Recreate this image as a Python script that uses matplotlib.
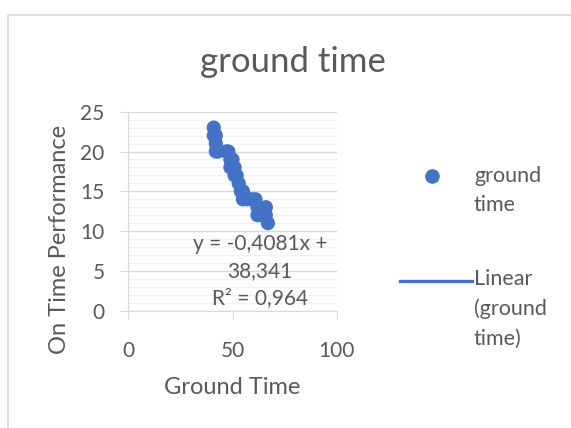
import numpy as np
import matplotlib.pyplot as plt
from matplotlib.lines import Line2D
from matplotlib.ticker import MultipleLocator

plt.rcParams['font.family'] = ['Lato', 'DejaVu Sans']

# data
ground_time = [41, 41, 42, 42, 42, 43, 47, 48, 49, 49, 50, 51, 51, 52,
               53, 54, 55, 55, 57, 59, 61, 62, 62, 63, 64, 65, 66, 66, 67]
on_time = [23, 22, 22, 21, 20, 20, 20, 20, 19, 18, 19, 18, 17, 17,
           16, 15, 15, 14, 14, 14, 14, 13, 12, 13, 12, 12, 13, 12, 11]
slope = -0.4081
intercept = 38.341
r2 = 0.964

blue = '#4472C4'
txt = '#595959'
W, H = 571, 428


def fx(px):
    return px / W


def fy(py):
    return 1 - py / H


fig = plt.figure(figsize=(W / 100, H / 100), dpi=100)
ax = fig.add_axes([fx(128.3), fy(310.7), fx(336.7) - fx(128.3), fy(111.7) - fy(310.7)])

# trendline
xs = np.array([min(ground_time), max(ground_time)])
ax.plot(xs, slope * xs + intercept, color=blue, lw=2.2, zorder=2)
ax.scatter(ground_time, on_time, s=105, color=blue, edgecolors='none', zorder=3)

ax.set_xlim(0, 100)
ax.set_ylim(0, 25)
ax.xaxis.set_major_locator(MultipleLocator(50))
ax.yaxis.set_major_locator(MultipleLocator(5))
ax.yaxis.set_minor_locator(MultipleLocator(1))
ax.grid(which='major', axis='y', color='#d9d9d9', lw=1, zorder=0)
ax.grid(which='minor', axis='y', color='#f2f2f2', lw=1, zorder=0)
ax.set_axisbelow(True)
for s in ['top', 'right']:
    ax.spines[s].set_visible(False)
for s in ['left', 'bottom']:
    ax.spines[s].set_color('#d9d9d9')
ax.tick_params(axis='both', which='major', colors='#d9d9d9', labelcolor=txt,
               length=6, labelsize=15)
ax.tick_params(axis='x', pad=16)
ax.tick_params(axis='y', pad=11)
ax.tick_params(which='minor', length=0)

ax.text(63.2, 5.0, f'y = {slope:.4f}x +\n{intercept:.3f}\nR² = {r2:.3f}'.replace('.', ','),
        ha='center', va='center', fontsize=15, color=txt, linespacing=1.45, zorder=4)

# titles
fig.text(fx(292.5), fy(62), 'ground time', ha='center', va='center', fontsize=25, color=txt)
fig.text(fx(232.5), fy(388), 'Ground Time', ha='center', va='center', fontsize=17, color=txt)
fig.text(fx(60), fy(239), 'On Time Performance', ha='center', va='center',
         rotation=90, fontsize=17, color=txt)

# legend
fig.add_artist(Line2D([fx(432)], [fy(176)], marker='o', ms=10.5, color=blue,
                      markeredgecolor='none', transform=fig.transFigure))
fig.text(fx(474), fy(166), 'ground\ntime', ha='left', va='top', fontsize=15.5,
         color=txt, linespacing=1.58)
fig.add_artist(Line2D([fx(400), fx(472)], [fy(281), fy(281)], color=blue, lw=2.4,
                      transform=fig.transFigure))
fig.text(fx(474), fy(269), 'Linear\n(ground\ntime)', ha='left', va='top', fontsize=15.5,
         color=txt, linespacing=1.58)

# chart border
fig.add_artist(Line2D([fx(8), fx(8), 1], [0, fy(14.5), fy(14.5)], color='#d9d9d9',
                      lw=1.2, transform=fig.transFigure))

fig.savefig('out.png', dpi=100)
